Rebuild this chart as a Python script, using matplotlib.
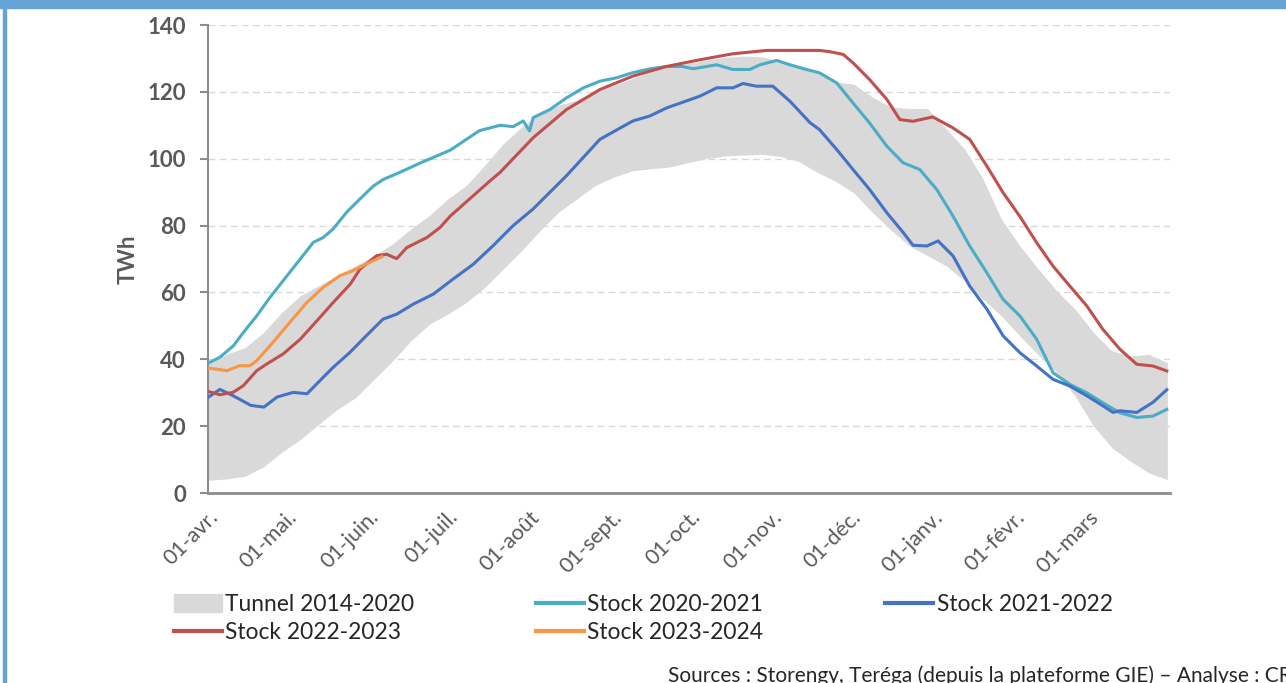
import numpy as np
import matplotlib
matplotlib.use("Agg")
import matplotlib.pyplot as plt
from matplotlib.patches import Patch
from matplotlib.lines import Line2D

# font close to the Calibri look of the original
plt.rcParams['font.family'] = ['Lato', 'DejaVu Sans']

# ---- data (day 0 = 01-avr.) ----
month_days = [0, 30, 61, 91, 122, 153, 183, 214, 244, 275, 306, 334]
month_labels = ['01-avr.', '01-mai.', '01-juin.', '01-juil.', '01-août', '01-sept.',
                '01-oct.', '01-nov.', '01-déc.', '01-janv.', '01-févr.', '01-mars']

# tunnel 2014-2020 (min / max), one value per week
tunnel_days = np.arange(0, 365, 7)
tunnel_max = [38.5, 41.5, 43.5, 48, 54, 59, 62, 65, 68, 71, 74.5, 79, 83, 88, 92, 98,
              104.5, 109.5, 113.5, 116, 117.5, 120, 122, 124, 126, 127.5, 128.5, 129.5,
              130.3, 130.7, 130.5, 129.2, 128, 125.7, 123, 122.3, 118.5, 115.5, 115, 115,
              109, 103, 94, 82, 74, 67, 60.5, 55, 48, 42.5, 41, 41.5, 39]
tunnel_min = [3.8, 4.2, 5, 7.8, 12.2, 16, 20.5, 25, 28.5, 34, 39.5, 45.5, 50.5, 53.5, 57,
              61.5, 67, 72.5, 78.5, 84, 88, 92, 94.5, 96.4, 97, 97.5, 98.8, 100, 100.8,
              101.1, 101.3, 100.7, 99.2, 96, 93.3, 89.8, 84, 78.8, 74, 71, 68, 63.5, 58,
              53, 47, 41.3, 36, 29, 20, 13.5, 9.5, 6, 4]

# stock 2020-2021
s2020_days = [0, 4.5, 9.6, 13.4, 18.5, 23.5, 30, 35, 40, 43.7, 47.5, 52.6, 57.7, 62.7,
              66.5, 73, 80.5, 92, 103, 110.8, 115.8, 119.6, 122, 123.4, 129.7, 136,
              142.4, 148.7, 155, 161, 167.7, 174, 180, 184, 193, 199, 205.6, 209.4,
              215.8, 220.8, 227, 232, 238.5, 244.7, 251, 257.5, 263.7, 270, 276.5,
              282.7, 289, 295.5, 301.6, 308, 314.4, 320.6, 327, 333.4, 339.5, 346,
              352.4, 358.5, 363.8]
s2020_vals = [38.8, 40.6, 44, 48, 53, 58.5, 65, 70, 75, 76.4, 79, 84, 88, 91.8, 93.8, 96,
              98.7, 102.6, 108.4, 110, 109.6, 111.3, 108.3, 112.3, 114.7, 118.2, 121.2,
              123.2, 124.2, 125.7, 126.9, 127.6, 127.6, 126.9, 128.1, 126.7, 126.7,
              128.1, 129.4, 128.1, 126.7, 125.7, 122.7, 116.7, 110.7, 103.8, 98.8, 96.8,
              90.8, 82.8, 73.9, 65.9, 58, 53, 46, 36, 32.5, 30, 27, 24, 22.6, 23, 25]

# stock 2021-2022
s2021_days = [0, 4.5, 9.5, 16.3, 21.2, 26.2, 32.3, 37.6, 43.7, 47.5, 53.9, 60, 66.4,
              71.6, 77.9, 85.5, 93, 100.6, 108.2, 115.8, 123.4, 136, 148.7, 161.2,
              167.7, 174, 186.6, 193, 199.2, 203, 208, 214.3, 220.8, 228.4, 232, 238.5,
              244.7, 251, 257.6, 263.8, 267.5, 272.8, 277, 282.7, 289, 295.5, 301.7,
              308, 314.4, 320.6, 327, 333.4, 339.5, 343.4, 346, 352.4, 358.5, 363.8]
s2021_vals = [28.6, 31, 29.1, 26.2, 25.7, 28.7, 30.1, 29.7, 34.6, 37.6, 42.1, 47, 52,
              53.5, 56.5, 59.5, 64, 68.4, 74, 80, 85, 94.9, 105.8, 111.3, 112.8, 115.2,
              118.7, 121.2, 121.2, 122.5, 121.7, 121.7, 117.2, 110.8, 108.7, 102.8, 96.8,
              90.8, 83.8, 77.9, 74.1, 73.9, 75.4, 70.9, 61.9, 55, 47, 42, 38, 34, 32,
              29.1, 26.1, 24.1, 24.6, 24.1, 27.1, 30.9]

# stock 2022-2023
s2022_days = [0, 4.5, 9.5, 13.4, 18.5, 22.3, 28.5, 35, 41.3, 47.5, 54, 57.7, 64, 67.8,
              71.6, 75.4, 83, 88, 92, 100.6, 106.9, 110.8, 123.4, 136, 148.7, 161.2,
              174, 186.6, 199.2, 212, 232, 236, 241, 244.7, 251, 257.6, 262.5, 267.5,
              275, 282.7, 289, 295.5, 301.7, 308, 314.4, 320.6, 327, 333.4, 339.5, 346,
              352.4, 358.5, 363.8]
s2022_vals = [30.4, 29.4, 30.1, 32.1, 36.6, 38.6, 41.6, 46, 51.5, 57, 62.5, 67, 71, 71.4,
              70.1, 73.4, 76.4, 79.4, 82.9, 88.9, 93.3, 95.9, 106.3, 114.7, 120.7, 124.7,
              127.6, 129.6, 131.4, 132.4, 132.4, 132, 131.2, 128.7, 123.7, 117.7, 111.7,
              111.2, 112.5, 109.2, 105.8, 97.8, 89.8, 82.8, 74.9, 67.9, 61.9, 56, 49, 43,
              38.5, 38, 36.5]

# stock 2023-2024 (in progress)
s2023_days = [0, 7.2, 12.1, 16, 18.5, 24.7, 31, 37.5, 43.7, 50, 55, 60, 66]
s2023_vals = [37.4, 36.6, 38.1, 38.1, 39.6, 45.1, 51, 57, 61.5, 65, 66.5, 68.5, 70.7]

# colours
c_tunnel = '#D9D9D9'
c_2020 = '#4BACC6'
c_2021 = '#4472C4'
c_2022 = '#C0504D'
c_2023 = '#F79646'
c_text = '#595959'
c_axis = '#8C8C8C'
c_frame = '#65A3D5'

fig = plt.figure(figsize=(12.86, 6.83), dpi=100)
ax = fig.add_axes([208 / 1286, 1 - 493 / 683, (1170 - 208) / 1286, (493 - 25) / 683])

ax.fill_between(tunnel_days, tunnel_min, tunnel_max, color=c_tunnel, lw=0, zorder=1)
ax.plot(s2020_days, s2020_vals, color=c_2020, lw=2.2, zorder=3)
ax.plot(s2021_days, s2021_vals, color=c_2021, lw=2.2, zorder=3)
ax.plot(s2022_days, s2022_vals, color=c_2022, lw=2.2, zorder=3)
ax.plot(s2023_days, s2023_vals, color=c_2023, lw=2.2, zorder=4)

ax.set_xlim(0, 365)
ax.set_ylim(0, 140)
ax.set_yticks(range(0, 141, 20))
ax.set_xticks(month_days)
ax.set_xticklabels(month_labels, rotation=45, ha='right', rotation_mode='anchor',
                   fontsize=15.5, color=c_text)
for lab in ax.get_yticklabels():
    lab.set_fontsize(16)
    lab.set_fontweight('bold')
    lab.set_color(c_text)

ax.set_axisbelow(True)
ax.yaxis.grid(True, color='#D9D9D9', lw=1, linestyle=(0, (5, 3)))
ax.tick_params(axis='x', length=0, pad=10)
ax.tick_params(axis='y', length=6, width=1.5, color=c_axis, pad=10)
for s in ['top', 'right']:
    ax.spines[s].set_visible(False)
ax.spines['left'].set_color(c_axis)
ax.spines['left'].set_linewidth(1.5)
ax.spines['bottom'].set_color(c_axis)
ax.spines['bottom'].set_linewidth(2)

ax.set_ylabel('TWh', fontsize=16, fontweight='bold', color=c_text, labelpad=6)

# legend, order chosen so columns fill like the original rows
handles = [Patch(color=c_tunnel, label='Tunnel 2014-2020'),
           Line2D([], [], color=c_2022, lw=3, label='Stock 2022-2023'),
           Line2D([], [], color=c_2020, lw=3, label='Stock 2020-2021'),
           Line2D([], [], color=c_2023, lw=3, label='Stock 2023-2024'),
           Line2D([], [], color=c_2021, lw=3, label='Stock 2021-2022')]
fig.legend(handles=handles, ncol=3, loc='upper left',
           bbox_to_anchor=(174 / 1286, 1 - 594 / 683), frameon=False,
           fontsize=16.4, handlelength=2.1, handleheight=0.8, handletextpad=0.15,
           columnspacing=5.35, labelspacing=0.32, borderaxespad=0, borderpad=0,
           labelcolor='#262626')

# source line, cut by the right edge as in the original
fig.text(668 / 1286, 1 - 676 / 683, 'Sources : Storengy, Teréga (depuis la plateforme GIE) – Analyse : CRE',
         fontsize=15, color='#262626', ha='left', va='center')

# blue frame of the original slide
fig.patches.append(plt.Rectangle((0, 1 - 8 / 683), 1, 8 / 683, transform=fig.transFigure,
                                 color=c_frame, zorder=10))
fig.patches.append(plt.Rectangle((3 / 1286, 0), 3 / 1286, 1, transform=fig.transFigure,
                                 color=c_frame, zorder=10))

fig.savefig('out.png', dpi=100)
